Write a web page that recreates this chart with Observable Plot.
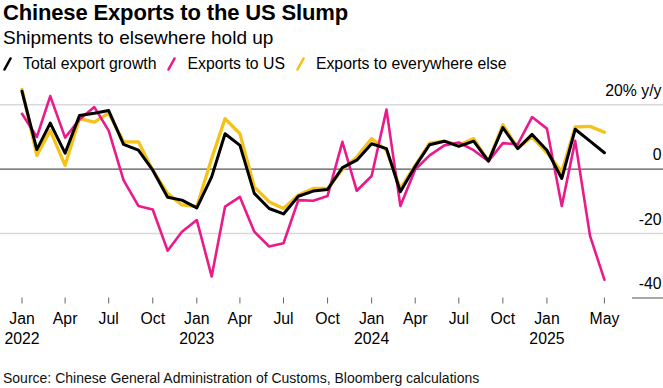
<!DOCTYPE html>
<html>
<head>
<meta charset="utf-8">
<script src="https://cdn.jsdelivr.net/npm/d3@7"></script>
<script src="https://cdn.jsdelivr.net/npm/@observablehq/plot@0.6"></script>
<style>
  body { margin: 0; background: #fff; font-family: "Liberation Sans", Arial, sans-serif; color: #000; width: 663px; height: 388px; overflow: hidden; }
  #title { font-weight: bold; font-size: 22px; line-height: 26px; padding-left: 3px; height: 26px; white-space: nowrap; letter-spacing: -0.15px; }
  #subtitle { font-size: 19px; line-height: 23px; padding-left: 3px; height: 23px; white-space: nowrap; }
  #legend { font-size: 15.8px; line-height: 29px; height: 29px; display: flex; align-items: center; padding-left: 3px; white-space: nowrap; }
  #legend .item { display: flex; align-items: center; margin-right: 11px; }
  #legend svg { margin-right: 11px; }
  #chart svg { display: block; }
  #caption { font-size: 14px; line-height: 20px; height: 20px; padding-left: 3px; white-space: nowrap; color: #111; }
</style>
</head>
<body>
<div id="title">Chinese Exports to the US Slump</div>
<div id="subtitle">Shipments to elsewhere hold up</div>
<div id="legend"></div>
<div id="chart"></div>
<div id="caption">Source: Chinese General Administration of Customs, Bloomberg calculations</div>
<script>
// ---- data (y/y % change), monthly Jan 2022 – May 2025 ----
const months = [
  "2022-01","2022-02","2022-03","2022-04","2022-05","2022-06","2022-07","2022-08","2022-09","2022-10","2022-11","2022-12",
  "2023-01","2023-02","2023-03","2023-04","2023-05","2023-06","2023-07","2023-08","2023-09","2023-10","2023-11","2023-12",
  "2024-01","2024-02","2024-03","2024-04","2024-05","2024-06","2024-07","2024-08","2024-09","2024-10","2024-11","2024-12",
  "2025-01","2025-02","2025-03","2025-04","2025-05"
];
const totalGrowth = [
  24.2, 6.1, 14.3, 5.0, 16.7, 17.4, 18.2, 7.7, 5.9, -0.3, -8.7, -9.6,
  -12.0, -2.4, 11.0, 7.4, -7.5, -12.2, -13.9, -8.4, -6.8, -6.3, 0.5, 2.8,
  7.9, 6.4, -7.0, 0.9, 7.6, 8.7, 7.1, 8.7, 2.5, 12.9, 6.4, 10.8,
  5.9, -2.9, 12.4, 8.7, 5.1
];
const exportsUS = [
  17.2, 10.0, 22.7, 9.8, 15.4, 19.3, 12.0, -3.4, -11.4, -12.5, -25.3, -19.4,
  -15.8, -33.3, -11.6, -8.6, -19.4, -24.0, -23.0, -9.6, -9.8, -8.3, 8.5, -6.7,
  -2.1, 18.5, -11.4, -0.1, 4.3, 7.4, 8.3, 5.9, 2.5, 8.1, 7.7, 16.2,
  12.6, -11.4, 8.8, -20.7, -34.3
];
const exportsElsewhere = [
  24.8, 4.3, 12.0, 1.2, 15.7, 14.6, 17.4, 8.5, 8.5, -0.3, -7.5, -11.1,
  -11.6, 3.3, 15.7, 11.0, -5.5, -10.1, -12.2, -8.0, -6.0, -6.0, -0.1, 3.8,
  9.5, 5.9, -6.0, 1.2, 8.1, 8.7, 7.4, 9.5, 2.5, 13.8, 6.6, 10.0,
  5.1, -0.8, 13.1, 13.3, 11.5
];
const seriesNames = ["Total export growth", "Exports to US", "Exports to everywhere else"];
const seriesColors = ["#000000", "#ea1a8a", "#f5c21a"];
const seriesWidths = [3, 2.6, 3.3];

const yTicks = [20, 0, -20, -40];
const yTickLabels = ["20% y/y", "0", "-20", "-40"];
const xTickMonths = ["2022-01","2022-04","2022-07","2022-10","2023-01","2023-04","2023-07","2023-10",
                     "2024-01","2024-04","2024-07","2024-10","2025-01","2025-05"];
const xTickLabels = ["Jan\n2022","Apr","Jul","Oct","Jan\n2023","Apr","Jul","Oct",
                     "Jan\n2024","Apr","Jul","Oct","Jan\n2025","May"];

// ---- build tables ----
const parse = d3.utcParse("%Y-%m");
const dates = months.map(parse);
const valuesBySeries = [totalGrowth, exportsUS, exportsElsewhere];
const rows = s => dates.map((date, i) => ({date, value: valuesBySeries[s][i], series: seriesNames[s]}));
const tickDates = xTickMonths.map(parse);
const tickLabelMap = new Map(tickDates.map((d, i) => [+d, xTickLabels[i]]));
const yLabelMap = new Map(yTicks.map((v, i) => [v, yTickLabels[i]]));

// ---- legend ----
const legend = document.getElementById("legend");
seriesNames.forEach((name, i) => {
  const item = document.createElement("span");
  item.className = "item";
  item.innerHTML = `<svg width="9" height="14"><line x1="1.5" y1="12.5" x2="7.5" y2="1.5" stroke="${seriesColors[i]}" stroke-width="2.6" stroke-linecap="round"/></svg><span>${name}</span>`;
  legend.appendChild(item);
});

// ---- chart ----
const W = 663, H = 290;
const chart = Plot.plot({
  width: W,
  height: H,
  marginLeft: 0,
  marginRight: 0,
  marginTop: 26.3,
  marginBottom: 70.5,
  style: {fontFamily: "Liberation Sans, Arial, sans-serif", fontSize: "15.8px", color: "#000", background: "#fff"},
  x: {type: "utc", domain: [dates[0], dates[dates.length - 1]], range: [21.5, 603.9], axis: null},
  y: {domain: [-40, 20], axis: null},
  marks: [
    Plot.ruleY(yTicks.filter(v => v !== 0 && v !== -40), {stroke: "#d9d9d9", strokeWidth: 1.5}),
    Plot.ruleY([-40], {stroke: "#8a8a8a", strokeWidth: 1.5, insetLeft: 632}),
    Plot.ruleY([0], {stroke: "#555", strokeWidth: 1.3}),
    Plot.line(rows(2), {x: "date", y: "value", stroke: seriesColors[2], strokeWidth: seriesWidths[2]}),
    Plot.line(rows(1), {x: "date", y: "value", stroke: seriesColors[1], strokeWidth: seriesWidths[1]}),
    Plot.line(rows(0), {x: "date", y: "value", stroke: seriesColors[0], strokeWidth: seriesWidths[0]}),
    Plot.text(yTicks, {y: d => d, text: d => yLabelMap.get(d), frameAnchor: "right", textAnchor: "end", dx: -2, dy: -14, fill: "#000", fontSize: 15.8}),
    Plot.axisX(tickDates, {tickFormat: d => tickLabelMap.get(+d), tickSize: 6, tickPadding: 5, stroke: "#666", fill: "#000", fontSize: 15.8, lineHeight: 1.3})
  ]
});
document.getElementById("chart").appendChild(chart);
</script>
</body>
</html>
